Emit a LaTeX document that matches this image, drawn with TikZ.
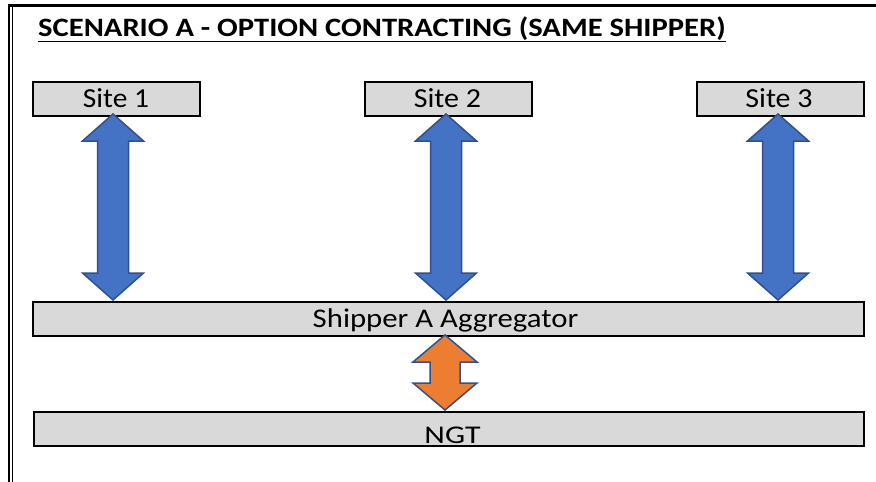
\documentclass[tikz,border=0pt]{standalone}
\usepackage{fontspec}
\setmainfont{Carlito}
\definecolor{boxgray}{HTML}{D9D9D9}
\definecolor{arrblue}{HTML}{4472C4}
\definecolor{arredge}{HTML}{2F528F}
\definecolor{arrorange}{HTML}{ED7D31}
\newcommand\mydblarrow[7]{% x, top, bottom, head half w, shaft half w, head len, fill
  \filldraw[fill=#7,draw=arredge,line width=1.5pt,line join=miter]
    (#1,#2) -- (#1+#4,#2+#6) -- (#1+#5,#2+#6) -- (#1+#5,#3-#6) -- (#1+#4,#3-#6)
    -- (#1,#3) -- (#1-#4,#3-#6) -- (#1-#5,#3-#6) -- (#1-#5,#2+#6) -- (#1-#4,#2+#6) -- cycle;}
\begin{document}
\begin{tikzpicture}[x=1pt,y=-1pt,
  box/.style={draw=black,line width=2pt,fill=boxgray,inner sep=0pt,anchor=north west},
  lbl/.style={anchor=base,inner sep=0pt,font=\fontsize{27.5}{30}\selectfont},
]
\useasboundingbox (0,0) rectangle (876,482);
% frame
\draw[line width=3pt] (8,5.5) -- (876,5.5);
\draw[line width=2pt] (9,4) -- (9,482);
\draw[line width=1.5pt] (12.5,7) -- (12.5,482);
% title
\node[anchor=base west,inner sep=0pt,font=\fontsize{25.5}{28}\selectfont\bfseries] (title) at (38,36) {\scalebox{1.2}[1.04]{\underline{SCENARIO A - OPTION CONTRACTING (SAME SHIPPER)}}};
% boxes
\node[box,minimum width=167pt,minimum height=34.5pt] (s1) at (32,80.5) {};
\node[box,minimum width=167pt,minimum height=34.5pt] (s2) at (364,80.5) {};
\node[box,minimum width=167pt,minimum height=34.5pt] (s3) at (696,80.5) {};
\node[box,minimum width=831pt,minimum height=34pt] (agg) at (32,301) {};
\node[box,minimum width=830pt,minimum height=34pt] (ngt) at (33,411) {};
% labels
\node[lbl] (s1t) at (116,107) {\scalebox{1.07}[1]{Site 1}};
\node[lbl] (s2t) at (447.5,107) {\scalebox{1.09}[1]{Site 2}};
\node[lbl] (s3t) at (779,107) {\scalebox{1.09}[1]{Site 3}};
\node[lbl,font=\fontsize{27}{30}\selectfont] (aggt) at (445.5,327) {\scalebox{1.14}[1]{Shipper A Aggregator}};
\node[lbl,font=\fontsize{25.5}{30}\selectfont] (ngtt) at (452.5,443) {\scalebox{1.25}[1]{NGT}};
% arrows
\mydblarrow{113}{114}{300}{30.5}{15.5}{27}{arrblue}
\mydblarrow{446}{114}{300}{30.5}{15.5}{27}{arrblue}
\mydblarrow{778}{114}{300}{30.5}{15.5}{27}{arrblue}
\mydblarrow{445}{335}{410}{32}{15}{27}{arrorange}
\end{tikzpicture}
\end{document}
